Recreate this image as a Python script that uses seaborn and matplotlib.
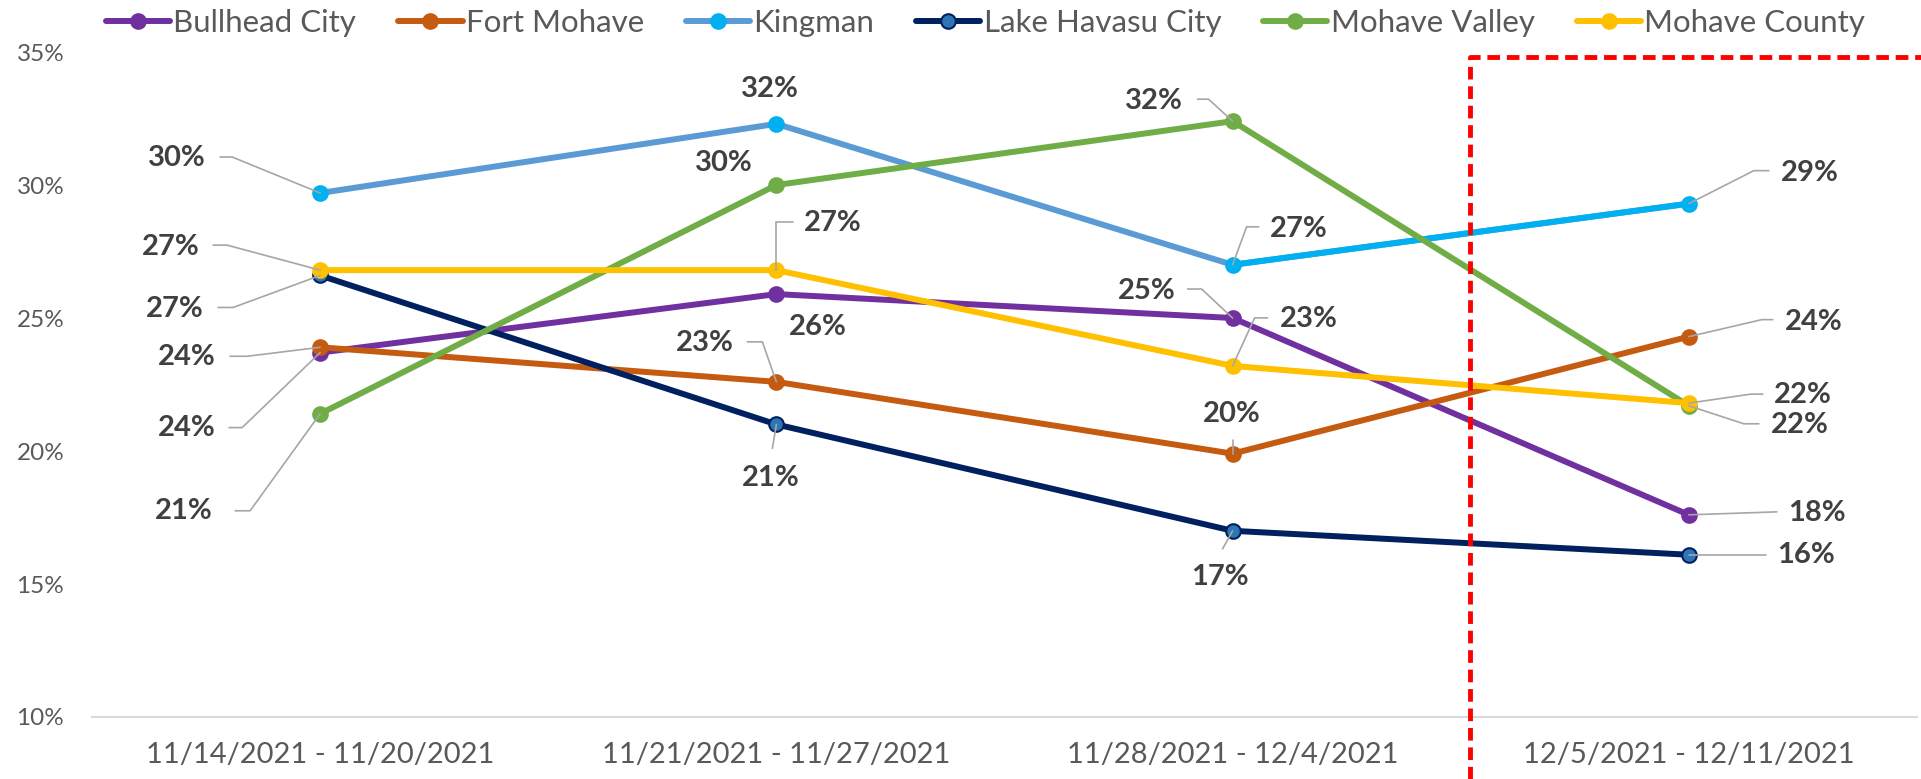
import numpy as np
import pandas as pd
import matplotlib
matplotlib.use("Agg")
import matplotlib.pyplot as plt
import seaborn as sns
from matplotlib.lines import Line2D

# ---------------- data ----------------
weeks = ["11/14/2021 - 11/20/2021", "11/21/2021 - 11/27/2021",
         "11/28/2021 - 12/4/2021", "12/5/2021 - 12/11/2021"]
series_names = ["Bullhead City", "Fort Mohave", "Kingman",
                "Lake Havasu City", "Mohave Valley", "Mohave County"]
bullhead_city = [23.7, 25.9, 25.0, 17.6]
fort_mohave = [23.9, 22.6, 19.9, 24.3]
kingman = [29.7, 32.3, 27.0, 29.3]
lake_havasu_city = [26.6, 21.0, 17.0, 16.1]
mohave_valley = [21.4, 30.0, 32.4, 21.7]
mohave_county = [26.8, 26.8, 23.2, 21.8]
y_ticks = [10, 15, 20, 25, 30, 35]

values = dict(zip(series_names, [bullhead_city, fort_mohave, kingman,
                                 lake_havasu_city, mohave_valley, mohave_county]))
df = pd.DataFrame([{"week_idx": i, "week": w, "series": s, "value": v}
                   for s in series_names
                   for i, (w, v) in enumerate(zip(weeks, values[s]))])

# ---------------- styles ----------------
styles = {
    "Bullhead City": dict(line="#7030A0", face="#7030A0", edge="#7030A0"),
    "Fort Mohave": dict(line="#C55A11", face="#C55A11", edge="#C55A11"),
    "Kingman": dict(line="#5B9BD5", face="#00B0F0", edge="#00B0F0"),
    "Lake Havasu City": dict(line="#002060", face="#2E75B6", edge="#002060"),
    "Mohave Valley": dict(line="#70AD47", face="#70AD47", edge="#70AD47"),
    "Mohave County": dict(line="#FFC000", face="#FFC000", edge="#FFC000"),
}
KINGMAN_LAST = "#00B0F0"

# label offsets in pixels (dx right, dy down) and optional leader (ex, ey, hx)
label_specs = {
    ("Kingman", 0): (-143, -35, (-88, -36, -100)),
    ("Mohave County", 0): (-149, -23, (-93, -25, -107)),
    ("Lake Havasu City", 0): (-145, 34, (-87, 32, -102)),
    ("Fort Mohave", 0): (-133, 10, (-73, 9, -90)),
    ("Bullhead City", 0): (-133, 75, (-78, 75, -91)),
    ("Mohave Valley", 0): (-136, 97, (-70, 97, -85)),

    ("Kingman", 1): (-6, -35, None),
    ("Mohave Valley", 1): (-53, -22, None),
    ("Mohave County", 1): (56, -47, (0, -48, 17)),
    ("Bullhead City", 1): (41, 33, None),
    ("Fort Mohave", 1): (-72, -39, (-14, -40, -29)),
    ("Lake Havasu City", 1): (-6, 54, (-4, 24, -4)),

    ("Mohave Valley", 2): (-79, -20, (-24, -22, -35)),
    ("Kingman", 2): (66, -36, (14, -38, 26)),
    ("Bullhead City", 2): (-86, -27, (-31, -29, -45)),
    ("Mohave County", 2): (76, -47, (22, -48, 35)),
    ("Fort Mohave", 2): (-1, -40, (0, -14, 0)),
    ("Lake Havasu City", 2): (-13, 46, (-10, 18, -10)),

    ("Kingman", 3): (121, -31, (65, -33, 80)),
    ("Fort Mohave", 3): (125, -15, (73, -17, 84)),
    ("Mohave County", 3): (114, -8, (62, -9, 74)),
    ("Mohave Valley", 3): (111, 19, (55, 18, 70)),
    ("Bullhead City", 3): (128, -2, (88, -3, 88)),
    ("Lake Havasu City", 3): (117, 0, (77, 0, 77)),
}

sns.set_theme(style="white")
plt.rcParams["font.family"] = ["Lato", "DejaVu Sans"]

fig = plt.figure(figsize=(19.21, 7.79), dpi=100)
ax = fig.add_axes([0.0479, 0.0796, 0.950, 0.8536])

LW = 4.3
MS = 10.5

for k, s in enumerate(series_names):
    st = styles[s]
    sub = df[df.series == s]
    sns.lineplot(data=sub, x="week_idx", y="value", color=st["line"], lw=LW,
                 ax=ax, legend=False, errorbar=None, zorder=2 + k,
                 solid_capstyle="round")
    if s == "Kingman":
        seg = sub.iloc[2:4]
        ax.plot(seg.week_idx, seg.value, color=KINGMAN_LAST, lw=LW,
                zorder=2 + k, solid_capstyle="round")
    ax.plot(sub.week_idx, sub.value, ls="none", marker="o", ms=MS,
            mfc=st["face"], mec=st["edge"], mew=1.5, zorder=2.5 + k)

ax.set_xlim(-0.5, 3.5)
ax.set_ylim(10, 35)
ax.set_yticks(y_ticks)
ax.set_yticklabels([f"{t}%" for t in y_ticks])
ax.set_xticks(range(len(weeks)))
ax.set_xticklabels(weeks)
ax.set_xlabel("")
ax.set_ylabel("")
ax.grid(False)
for sp in ["left", "right", "top"]:
    ax.spines[sp].set_visible(False)
ax.spines["bottom"].set_color("#D9D9D9")
ax.spines["bottom"].set_linewidth(1.5)
ax.tick_params(axis="x", length=0, pad=18, labelsize=21, labelcolor="#595959")
ax.tick_params(axis="y", length=0, pad=20, labelsize=17.5, labelcolor="#595959")

# data labels with leader lines
inv = ax.transData.inverted()
for (s, i), (dx, dy, leader) in label_specs.items():
    v = values[s][i]
    ax.annotate(f"{round(v):.0f}%", xy=(i, v), xytext=(dx, -dy),
                textcoords="offset pixels", ha="center", va="center",
                fontsize=21, fontweight="bold", color="#404040", zorder=20)
    if leader is not None:
        ex, ey, hx = leader
        px, py = ax.transData.transform((i, v))
        pts = inv.transform([(px, py), (px + ex, py - ey), (px + hx, py - ey)])
        ax.plot(pts[:, 0], pts[:, 1], color="#A6A6A6", lw=1.2, zorder=15,
                clip_on=False)

# legend
handles = [Line2D([0], [0], color=styles[s]["line"], lw=LW, marker="o", ms=MS,
                  mfc=styles[s]["face"], mec=styles[s]["edge"], mew=1.5,
                  solid_capstyle="round") for s in series_names]
fig.legend(handles, series_names, loc="upper center", bbox_to_anchor=(0.513, 1.012),
           ncol=6, frameon=False, fontsize=22.5, handlelength=2.05,
           columnspacing=1.35, handletextpad=0.1, borderpad=0.1,
           labelcolor="#595959")

# red dashed highlight box
fig.add_artist(Line2D([0.765, 0.765, 1.0], [0.0, 0.927, 0.927],
                      transform=fig.transFigure, color="#FF0000", lw=3.5,
                      linestyle=(0, (2.6, 1.4)), zorder=30))

fig.savefig("out.png", dpi=100)
